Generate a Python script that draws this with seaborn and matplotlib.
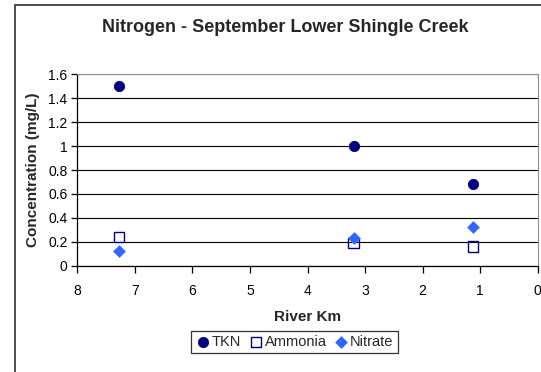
import matplotlib
matplotlib.use("Agg")
import matplotlib.pyplot as plt
from matplotlib.patches import Rectangle
import seaborn as sns
import pandas as pd

# Sampling stations (river km) and nitrogen concentrations (mg/L)
river_km = [7.27, 3.2, 1.13]
tkn = [1.50, 1.00, 0.68]
ammonia = [0.24, 0.19, 0.16]
nitrate = [0.12, 0.23, 0.32]

x_ticks = [8, 7, 6, 5, 4, 3, 2, 1, 0]
y_ticks = [0, 0.2, 0.4, 0.6, 0.8, 1.0, 1.2, 1.4, 1.6]
y_tick_labels = ["0", "0.2", "0.4", "0.6", "0.8", "1", "1.2", "1.4", "1.6"]

sns.set_theme(style="white")
plt.rcParams["font.family"] = ["Liberation Sans", "DejaVu Sans"]

df = pd.DataFrame({
    "River Km": river_km * 3,
    "Concentration": tkn + ammonia + nitrate,
    "Series": ["TKN"] * 3 + ["Ammonia"] * 3 + ["Nitrate"] * 3,
})

fig = plt.figure(figsize=(5.41, 3.72), dpi=100)
fig.patch.set_facecolor("white")

# Chart-area frame
fig.add_artist(Rectangle((15.5 / 541, -0.1), 1.2, 1 - 4.5 / 372 + 0.1,
                         transform=fig.transFigure, fill=False,
                         edgecolor="#303030", linewidth=1.2))

ax = fig.add_axes([77.3 / 541, 1 - 265.7 / 372, 460.4 / 541, 191.4 / 372])

styles = {
    "TKN": dict(marker="o", s=55, color="#000080", edgecolor="#000080"),
    "Ammonia": dict(marker="s", s=55, facecolor="none", edgecolor="#000080", linewidth=1.0),
    "Nitrate": dict(marker="D", s=36, color="#3366FF", edgecolor="#3366FF"),
}
for name, kw in styles.items():
    sub = df[df["Series"] == name]
    sns.scatterplot(data=sub, x="River Km", y="Concentration", ax=ax,
                    label=name, zorder=3, **kw)

ax.set_xlim(8, 0)
ax.set_ylim(0, 1.6)
ax.set_xticks(x_ticks)
ax.set_xticklabels([str(t) for t in x_ticks])
ax.set_yticks(y_ticks)
ax.set_yticklabels(y_tick_labels)

ax.grid(axis="y", color="black", linewidth=0.8)
ax.set_axisbelow(True)
for side in ["top", "right"]:
    ax.spines[side].set_color("#909090")
    ax.spines[side].set_linewidth(0.8)
for side in ["left", "bottom"]:
    ax.spines[side].set_color("black")
    ax.spines[side].set_linewidth(0.9)

ax.tick_params(axis="both", direction="out", length=4, width=0.9,
               colors="black", labelsize=10, pad=3)
ax.tick_params(axis="x", bottom=True, length=5, pad=8)
ax.tick_params(axis="y", left=True)

ax.set_xlabel("River Km", fontsize=11, fontweight="bold", labelpad=9)
ax.set_ylabel("Concentration (mg/L)", fontsize=11, fontweight="bold", labelpad=6)

fig.text(285.5 / 541, 1 - 27 / 372, "Nitrogen - September Lower Shingle Creek",
         ha="center", va="center", fontsize=13, fontweight="bold")

leg = ax.legend(loc="center", bbox_to_anchor=(294.5 / 541, 1 - 342 / 372),
                bbox_transform=fig.transFigure, ncol=3, frameon=True,
                fancybox=False, fontsize=10.5, handletextpad=0.1,
                columnspacing=0.5, handlelength=1.0, borderpad=0.3,
                borderaxespad=0)
leg.get_frame().set_edgecolor("black")
leg.get_frame().set_linewidth(0.9)

fig.savefig("out.png", dpi=100, facecolor="white")
